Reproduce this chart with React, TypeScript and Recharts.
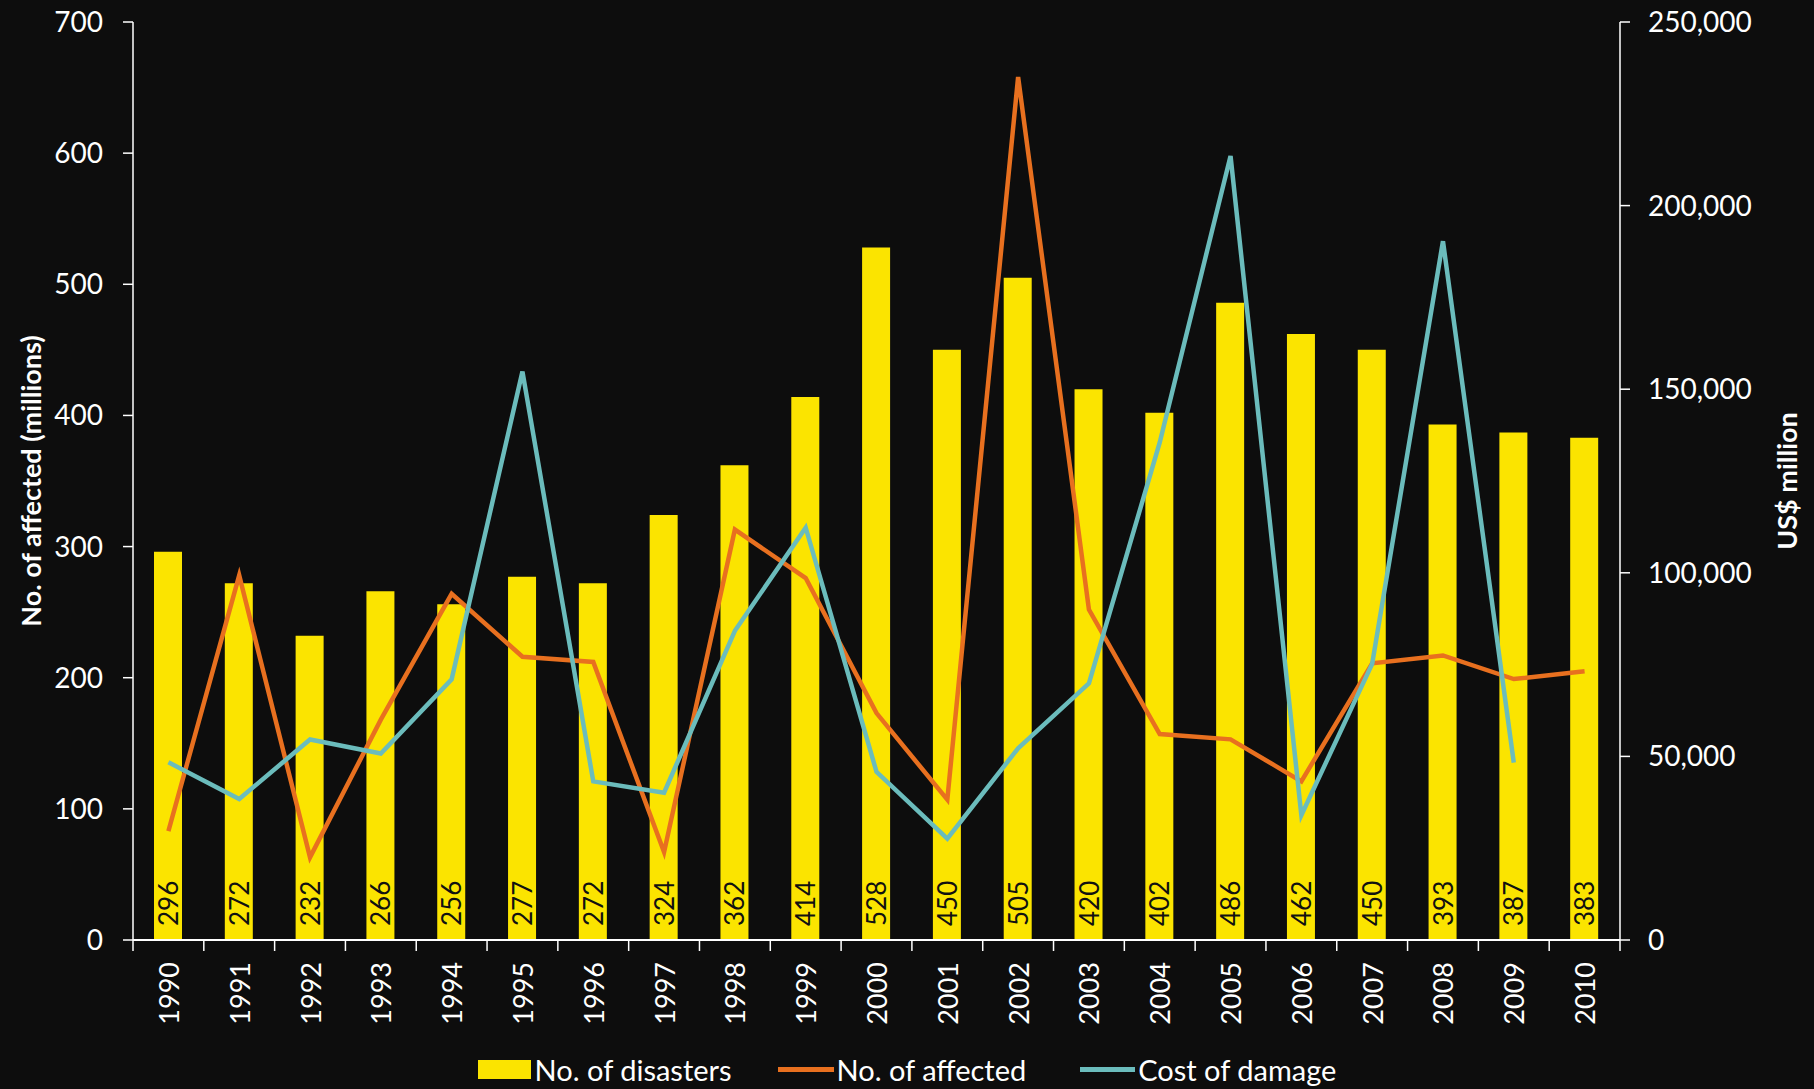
import { ComposedChart, Bar, Line, XAxis, YAxis, Legend, LabelList } from 'recharts'

const years = ['1990', '1991', '1992', '1993', '1994', '1995', '1996', '1997', '1998', '1999', '2000',
  '2001', '2002', '2003', '2004', '2005', '2006', '2007', '2008', '2009', '2010']
const disasters = [296, 272, 232, 266, 256, 277, 272, 324, 362, 414, 528, 450, 505, 420, 402, 486, 462, 450, 393, 387, 383]
const affected = [83, 278, 63, 168, 264, 216, 212, 67, 313, 276, 173, 107, 658, 252, 157, 153, 121, 211, 217, 199, 205]
const damage = [48400, 38400, 54600, 50800, 71000, 154800, 43200, 40100, 84200, 112300, 45800, 27600, 52200, 69900,
  135500, 213500, 34000, 75200, 190300, 48300, null]

const leftTicks = [0, 100, 200, 300, 400, 500, 600, 700]
const rightTicks = [0, 50000, 100000, 150000, 200000, 250000]

const data = years.map((year, i) => ({
  year,
  disasters: disasters[i],
  affected: affected[i],
  damage: damage[i],
}))

const W = 1814
const H = 1089
const LEFT_W = 133
const RIGHT_W = 194
const FONT = 'Lato, "Open Sans", sans-serif'
const BG = '#0d0d0d'
const YELLOW = '#fbe400'
const ORANGE = '#e8701f'
const TEAL = '#6bbcbc'

const step = (W - LEFT_W - RIGHT_W) / years.length

function YearTick(props: any) {
  const { x, y, payload, index } = props
  const last = index === years.length - 1
  return (
    <g>
      <line x1={x - step / 2} x2={x - step / 2} y1={y} y2={y + 11} stroke="#fff" strokeWidth={1.5} />
      {last && <line x1={x + step / 2} x2={x + step / 2} y1={y} y2={y + 11} stroke="#fff" strokeWidth={1.5} />}
      <text
        x={x}
        y={y + 22}
        transform={`rotate(-90, ${x}, ${y + 22})`}
        textAnchor="end"
        dominantBaseline="central"
        fill="#fff"
        fontFamily={FONT}
        fontSize={27}
      >
        {payload.value}
      </text>
    </g>
  )
}

function BarValue(props: any) {
  const { x, y, width, height, value } = props
  const cx = x + width / 2
  const by = y + height - 14
  return (
    <text
      x={cx}
      y={by}
      transform={`rotate(-90, ${cx}, ${by})`}
      textAnchor="start"
      dominantBaseline="central"
      fill="#111"
      fontFamily={FONT}
      fontSize={26}
    >
      {value}
    </text>
  )
}

function axisTitle(text: string, side: 'left' | 'right') {
  return (props: any) => {
    const vb = props.viewBox
    const tx = side === 'left' ? vb.x + 30 : vb.x + vb.width - 28
    const ty = vb.y + vb.height / 2
    return (
      <text
        x={tx}
        y={ty}
        transform={`rotate(-90, ${tx}, ${ty})`}
        textAnchor="middle"
        dominantBaseline="central"
        fill="#fff"
        fontFamily={FONT}
        fontWeight={700}
        fontSize={27}
      >
        {text}
      </text>
    )
  }
}

function ChartLegend() {
  const item = { display: 'flex', alignItems: 'center' }
  return (
    <div style={{ display: 'flex', justifyContent: 'center', alignItems: 'center', height: 40, fontFamily: FONT, fontSize: 29, color: '#fff' }}>
      <span style={{ ...item, marginRight: 46 }}>
        <span style={{ width: 53, height: 19, background: YELLOW, marginRight: 4 }} />
        No. of disasters
      </span>
      <span style={{ ...item, marginRight: 54 }}>
        <span style={{ width: 56, height: 5, background: ORANGE, marginRight: 3 }} />
        No. of affected
      </span>
      <span style={item}>
        <span style={{ width: 55, height: 5, background: TEAL, marginRight: 3 }} />
        Cost of damage
      </span>
    </div>
  )
}

export default function App() {
  return (
    <div style={{ width: W, height: H, background: BG }}>
      <style>{`body{margin:0;background:${BG}}`}</style>
      <ComposedChart width={W} height={H} data={data} margin={{ top: 22, right: 0, left: 0, bottom: 0 }}>
        <XAxis
          dataKey="year"
          height={109}
          axisLine={{ stroke: '#fff', strokeWidth: 2 }}
          tickLine={false}
          tickSize={0}
          tickMargin={0}
          interval={0}
          tick={<YearTick />}
        />
        <YAxis
          yAxisId="left"
          width={LEFT_W}
          domain={[0, 700]}
          ticks={leftTicks}
          interval={0}
          axisLine={{ stroke: '#fff', strokeWidth: 1.5 }}
          tickLine={{ stroke: '#fff', strokeWidth: 1.5 }}
          tickSize={10}
          tickMargin={20}
          tick={{ fill: '#fff', fontFamily: FONT, fontSize: 28 }}
          label={axisTitle('No. of affected (millions)', 'left')}
        />
        <YAxis
          yAxisId="right"
          orientation="right"
          width={RIGHT_W}
          domain={[0, 250000]}
          ticks={rightTicks}
          interval={0}
          axisLine={{ stroke: '#fff', strokeWidth: 1.5 }}
          tickLine={{ stroke: '#fff', strokeWidth: 1.5 }}
          tickSize={10}
          tickMargin={18}
          tickFormatter={(v: number) => v.toLocaleString('en-US')}
          tick={{ fill: '#fff', fontFamily: FONT, fontSize: 28, textAnchor: 'start' }}
          label={axisTitle('US$ million', 'right')}
        />
        <Legend verticalAlign="bottom" content={<ChartLegend />} />
        <Bar yAxisId="left" dataKey="disasters" name="No. of disasters" fill={YELLOW} barSize={28} isAnimationActive={false}>
          <LabelList dataKey="disasters" content={<BarValue />} />
        </Bar>
        <Line yAxisId="left" type="linear" dataKey="affected" name="No. of affected" stroke={ORANGE} strokeWidth={4.5} dot={false} isAnimationActive={false} />
        <Line yAxisId="right" type="linear" dataKey="damage" name="Cost of damage" stroke={TEAL} strokeWidth={4.5} dot={false} isAnimationActive={false} />
      </ComposedChart>
    </div>
  )
}
